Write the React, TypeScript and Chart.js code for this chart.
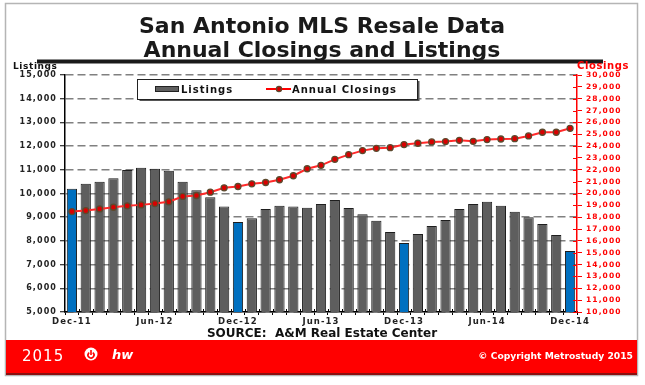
import React, { useEffect, useRef } from 'react';
import { Chart, registerables } from 'chart.js';

Chart.register(...registerables);

const months = [
  'Dec-11',
  'Jan-12', 'Feb-12', 'Mar-12', 'Apr-12', 'May-12', 'Jun-12', 'Jul-12', 'Aug-12', 'Sep-12', 'Oct-12', 'Nov-12', 'Dec-12',
  'Jan-13', 'Feb-13', 'Mar-13', 'Apr-13', 'May-13', 'Jun-13', 'Jul-13', 'Aug-13', 'Sep-13', 'Oct-13', 'Nov-13', 'Dec-13',
  'Jan-14', 'Feb-14', 'Mar-14', 'Apr-14', 'May-14', 'Jun-14', 'Jul-14', 'Aug-14', 'Sep-14', 'Oct-14', 'Nov-14', 'Dec-14',
];

const shownTicks = ['Dec-11', 'Jun-12', 'Dec-12', 'Jun-13', 'Dec-13', 'Jun-14', 'Dec-14'];

const listings = [
  10200, 10410, 10500, 10640, 10990, 11090, 11045, 10960, 10500, 10140, 9845, 9450, 8800,
  8955, 9350, 9480, 9450, 9400, 9560, 9730, 9390, 9125, 8855, 8375, 7910,
  8290, 8630, 8885, 9350, 9560, 9650, 9480, 9225, 9000, 8715, 8250, 7570,
];

const annualClosings = [
  18475, 18560, 18700, 18840, 18960, 19040, 19150, 19300, 19750, 19830, 20110, 20480, 20590,
  20820, 20930, 21160, 21500, 22090, 22380, 22880, 23280, 23620, 23810, 23870, 24130,
  24240, 24350, 24380, 24490, 24400, 24550, 24600, 24630, 24860, 25170, 25170, 25500,
];

const titleLines = ['San Antonio MLS Resale Data', 'Annual Closings and Listings'];
const leftAxisTitle = 'Listings';
const rightAxisTitle = 'Closings';
const seriesNames = ['Listings', 'Annual Closings'];
const sourceText = 'SOURCE:  A&M Real Estate Center';
const footerYear = '2015';
const footerLogo = 'hw';
const copyrightText = '\u00A9 Copyright Metrostudy 2015';

const GRAY = '#5e5e5e';
const BLUE = '#0070c0';
const RED = '#ff0000';
const FONT = '"DejaVu Sans", Verdana, sans-serif';

const decorPlugin = {
  id: 'decor',
  beforeDraw(chart: any) {
    const ctx = chart.ctx;
    ctx.save();
    ctx.fillStyle = '#ffffff';
    ctx.fillRect(0, 0, chart.width, chart.height);
    ctx.restore();
    ctx.letterSpacing = '1.1px';
  },
  afterDraw(chart: any) {
    const ctx = chart.ctx;
    const area = chart.chartArea;
    ctx.letterSpacing = '0px';
    ctx.save();

    // inner tick marks
    const y1 = chart.scales.y1;
    ctx.strokeStyle = RED;
    ctx.lineWidth = 1;
    y1.ticks.forEach((t: any) => {
      const py = Math.round(y1.getPixelForValue(t.value)) + 0.5;
      ctx.beginPath();
      ctx.moveTo(area.right - 4, py);
      ctx.lineTo(area.right, py);
      ctx.stroke();
    });
    const xs = chart.scales.x;
    const cw = (xs.right - xs.left) / months.length;
    ctx.strokeStyle = '#000';
    for (let i = 1; i < months.length; i++) {
      const px = Math.round(xs.getPixelForValue(i) - cw / 2) + 0.5;
      ctx.beginPath();
      ctx.moveTo(px, area.bottom - 3);
      ctx.lineTo(px, area.bottom);
      ctx.stroke();
    }

    // outer frame
    ctx.strokeStyle = '#b5b5b5';
    ctx.lineWidth = 1.5;
    ctx.strokeRect(5.5, 3.5, 632, 372);

    // title
    ctx.fillStyle = '#1a1a1a';
    ctx.font = `bold 22px ${FONT}`;
    ctx.textAlign = 'center';
    ctx.textBaseline = 'alphabetic';
    ctx.fillText(titleLines[0], 322, 33);
    ctx.fillText(titleLines[1], 322, 57);
    ctx.fillStyle = '#1a1a1a';
    ctx.fillRect(37, 59.5, 566, 4);

    // axis titles
    ctx.textAlign = 'left';
    ctx.letterSpacing = '0.6px';
    ctx.font = `bold 9px ${FONT}`;
    ctx.fillStyle = '#111';
    ctx.fillText(leftAxisTitle, 13, 69);
    ctx.font = `bold 10px ${FONT}`;
    ctx.fillStyle = RED;
    ctx.fillText(rightAxisTitle, 577, 69);

    // legend
    ctx.letterSpacing = '0px';
    ctx.fillStyle = '#555';
    ctx.fillRect(139.5, 81, 280, 20);
    ctx.fillStyle = '#fff';
    ctx.fillRect(137.5, 79.5, 280, 20);
    ctx.strokeStyle = '#222';
    ctx.lineWidth = 1;
    ctx.strokeRect(137.5, 79.5, 280, 20);
    ctx.fillStyle = GRAY;
    ctx.fillRect(155.5, 86.5, 23, 5);
    ctx.strokeStyle = '#222';
    ctx.strokeRect(155.5, 86.5, 23, 5);
    ctx.strokeStyle = RED;
    ctx.lineWidth = 2;
    ctx.beginPath();
    ctx.moveTo(266, 89);
    ctx.lineTo(291, 89);
    ctx.stroke();
    ctx.beginPath();
    ctx.arc(279, 89, 2.6, 0, Math.PI * 2);
    ctx.fillStyle = '#d00000';
    ctx.fill();
    ctx.lineWidth = 1.2;
    ctx.strokeStyle = '#5c4a2e';
    ctx.stroke();
    ctx.letterSpacing = '1px';
    ctx.font = `bold 10px ${FONT}`;
    ctx.fillStyle = '#111';
    ctx.fillText(seriesNames[0], 181, 93);
    ctx.fillText(seriesNames[1], 292, 93);

    // source
    ctx.letterSpacing = '0px';
    ctx.textAlign = 'center';
    ctx.font = `bold 12px ${FONT}`;
    ctx.fillStyle = '#111';
    ctx.fillText(sourceText, 322, 337);

    // footer band
    ctx.fillStyle = RED;
    ctx.fillRect(6, 340, 631, 33);
    ctx.fillStyle = '#8a1010';
    ctx.fillRect(6, 373, 631, 2);
    ctx.fillStyle = '#fff';
    ctx.textAlign = 'left';
    ctx.letterSpacing = '1px';
    ctx.font = `15px ${FONT}`;
    ctx.fillText(footerYear, 22, 361);
    // logo
    ctx.beginPath();
    ctx.arc(91, 354, 6.5, 0, Math.PI * 2);
    ctx.fillStyle = '#fff';
    ctx.fill();
    ctx.strokeStyle = RED;
    ctx.lineWidth = 1.6;
    ctx.beginPath();
    ctx.arc(91, 355, 3, -Math.PI * 0.3, Math.PI * 1.3);
    ctx.stroke();
    ctx.beginPath();
    ctx.moveTo(91, 350);
    ctx.lineTo(91, 355);
    ctx.stroke();
    ctx.fillStyle = '#fff';
    ctx.letterSpacing = '0px';
    ctx.font = `bold italic 13px ${FONT}`;
    ctx.fillText(footerLogo, 112, 359);
    ctx.textAlign = 'right';
    ctx.font = `bold 9.2px ${FONT}`;
    ctx.fillText(copyrightText, 633, 359);

    ctx.restore();
  },
};

export default function App() {
  const ref = useRef<HTMLCanvasElement | null>(null);

  useEffect(() => {
    document.body.style.margin = '0';
    const canvas = ref.current;
    if (!canvas) return;
    const chart = new Chart(canvas, {
      type: 'bar',
      data: {
        labels: months,
        datasets: [
          {
            type: 'line',
            label: seriesNames[1],
            data: annualClosings,
            yAxisID: 'y1',
            order: 0,
            borderColor: '#ff2a2a',
            borderWidth: 2,
            pointRadius: 3,
            pointBackgroundColor: '#d80000',
            pointBorderColor: '#5c4a2e',
            pointBorderWidth: 1.3,
            tension: 0,
            fill: false,
          } as any,
          {
            type: 'bar',
            label: seriesNames[0],
            data: listings,
            yAxisID: 'y',
            order: 1,
            backgroundColor: months.map((m) => (m.startsWith('Dec') ? BLUE : GRAY)),
            borderColor: '#1e1e1e',
            borderWidth: 1,
            borderSkipped: 'bottom',
            categoryPercentage: 1,
            barPercentage: 0.74,
          } as any,
        ],
      },
      options: {
        responsive: false,
        animation: false,
        devicePixelRatio: 1,
        layout: { padding: { top: 75, left: 0, right: 0, bottom: 0 } },
        plugins: {
          legend: { display: false },
          title: { display: false },
          tooltip: { enabled: false },
        },
        scales: {
          x: {
            type: 'category',
            offset: true,
            grid: {
              display: true,
              drawOnChartArea: false,
              offset: true,
              tickLength: 3,
              tickColor: '#000',
            },
            border: { display: true, color: '#000', width: 1.5 },
            ticks: {
              autoSkip: false,
              maxRotation: 0,
              minRotation: 0,
              padding: 2,
              color: '#222',
              font: { family: FONT, size: 8.5, weight: 'bold' },
              callback: (_v: any, i: number) => (shownTicks.includes(months[i]) ? months[i] : ''),
            },
            afterFit: (s: any) => {
              s.height = 73;
            },
          },
          y: {
            type: 'linear',
            position: 'left',
            min: 5000,
            max: 15000,
            ticks: {
              stepSize: 1000,
              autoSkip: false,
              padding: 3,
              color: '#222',
              font: { family: FONT, size: 8, weight: 'bold' },
              callback: (v: any) => Number(v).toLocaleString('en-US'),
            },
            grid: {
              color: '#808080',
              lineWidth: 1.5,
              tickLength: 5,
              tickColor: '#000',
              tickWidth: 1,
              tickBorderDash: [],
            },
            border: { display: true, color: '#000', width: 1.5, dash: [8, 4] },
            afterFit: (s: any) => {
              s.width = 65;
            },
          },
          y1: {
            type: 'linear',
            position: 'right',
            min: 10000,
            max: 30000,
            ticks: {
              stepSize: 1000,
              autoSkip: false,
              padding: 4,
              color: RED,
              font: { family: FONT, size: 7.5, weight: 'bold' },
              callback: (v: any) => Number(v).toLocaleString('en-US'),
            },
            grid: {
              drawOnChartArea: false,
              tickLength: 5,
              tickColor: RED,
              tickWidth: 1,
            },
            border: { display: true, color: RED, width: 1.5 },
            afterFit: (s: any) => {
              s.width = 68;
            },
          },
        },
      },
      plugins: [decorPlugin],
    });
    return () => chart.destroy();
  }, []);

  return <canvas ref={ref} width={645} height={385} style={{ display: 'block' }} />;
}
